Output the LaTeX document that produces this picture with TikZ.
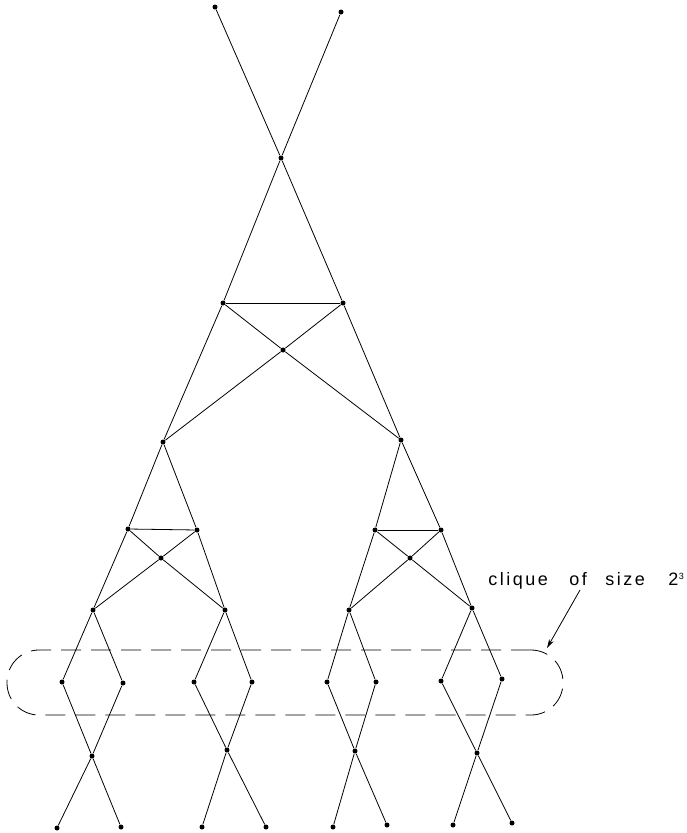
\documentclass[tikz,border=0pt]{standalone}
\usepackage{fontspec}
\newfontfamily\labfont[LetterSpace=14]{Liberation Sans}
\newfontfamily\supfont{Liberation Sans}
\usetikzlibrary{arrows.meta}
\begin{document}
\begin{tikzpicture}[x=1pt,y=-1pt,
  dot/.style={circle,fill=black,inner sep=0pt,minimum size=5pt},
  every path/.style={line width=0.8pt},
  cliquebox/.style={draw,dash pattern=on 20pt off 10pt,rounded corners=32pt,
    minimum width=556pt,minimum height=65pt,inner sep=0pt}]
\useasboundingbox (0,0) rectangle (687,833);
% top
\node[dot] (T1) at (215,7) {};
\node[dot] (T2) at (341,12) {};
\node[dot] (C0) at (281,158) {};
\node[dot] (L2) at (223,303) {};
\node[dot] (R2) at (343,303) {};
\node[dot] (M2) at (283,350) {};
\node[dot] (L3) at (163,442) {};
\node[dot] (R3) at (401,440) {};
% left gadget
\node[dot] (la) at (128,529) {};
\node[dot] (lb) at (197,530) {};
\node[dot] (lc) at (161,558) {};
\node[dot] (lP) at (93,610) {};
\node[dot] (lQ) at (225,610) {};
% right gadget
\node[dot] (ra) at (375,530) {};
\node[dot] (rb) at (441,530) {};
\node[dot] (rc) at (410,558) {};
\node[dot] (rP) at (349,610) {};
\node[dot] (rQ) at (472,608) {};
% level 5
\node[dot] (f1) at (62,682) {};
\node[dot] (f2) at (123,683) {};
\node[dot] (f3) at (194,682) {};
\node[dot] (f4) at (252,682) {};
\node[dot] (f5) at (327,682) {};
\node[dot] (f6) at (376,682) {};
\node[dot] (f7) at (441,681) {};
\node[dot] (f8) at (502,679) {};
% crossings
\node[dot] (x1) at (92,756) {};
\node[dot] (x2) at (227,750) {};
\node[dot] (x3) at (355,751) {};
\node[dot] (x4) at (477,753) {};
% bottom
\node[dot] (b1) at (57,828) {};
\node[dot] (b2) at (121,827) {};
\node[dot] (b3) at (202,827) {};
\node[dot] (b4) at (266,827) {};
\node[dot] (b5) at (333,827) {};
\node[dot] (b6) at (387,825) {};
\node[dot] (b7) at (453,825) {};
\node[dot] (b8) at (512,823) {};
% edges top
\draw (T1) -- (C0) -- (R2);
\draw (T2) -- (C0) -- (L2);
\draw (L2) -- (R2);
\draw (L2) -- (M2) -- (R3);
\draw (R2) -- (M2) -- (L3);
\draw (L2) -- (L3);
\draw (R2) -- (R3);
% left gadget
\draw (L3) -- (la); \draw (L3) -- (lb); \draw (la) -- (lb);
\draw (la) -- (lP); \draw (lb) -- (lQ);
\draw (la) -- (lc) -- (lQ); \draw (lb) -- (lc) -- (lP);
% right gadget
\draw (R3) -- (ra); \draw (R3) -- (rb); \draw (ra) -- (rb);
\draw (ra) -- (rP); \draw (rb) -- (rQ);
\draw (ra) -- (rc) -- (rQ); \draw (rb) -- (rc) -- (rP);
% level 5
\draw (lP) -- (f1); \draw (lP) -- (f2);
\draw (lQ) -- (f3); \draw (lQ) -- (f4);
\draw (rP) -- (f5); \draw (rP) -- (f6);
\draw (rQ) -- (f7); \draw (rQ) -- (f8);
% bottom crossings
\draw (f1) -- (x1) -- (b2); \draw (f2) -- (x1) -- (b1);
\draw (f3) -- (x2) -- (b4); \draw (f4) -- (x2) -- (b3);
\draw (f5) -- (x3) -- (b6); \draw (f6) -- (x3) -- (b5);
\draw (f7) -- (x4) -- (b8); \draw (f8) -- (x4) -- (b7);
% clique
\node[cliquebox] (clique) at (285,682.5) {};
\node[anchor=base west,inner sep=0pt] (lab) at (488,585)
  {\labfont\fontsize{18}{22}\selectfont\makebox[81pt][l]{clique}\makebox[36pt][l]{of}\makebox[63pt][l]{size}\makebox[10.5pt][l]{2}\raisebox{6pt}{\supfont\fontsize{9}{9}\selectfont 3}};
\coordinate (as) at (580,590);
\coordinate (at) at (547,648);
\draw[-{Stealth[length=9pt,width=5pt]}] (as) -- (at);
\end{tikzpicture}
\end{document}
